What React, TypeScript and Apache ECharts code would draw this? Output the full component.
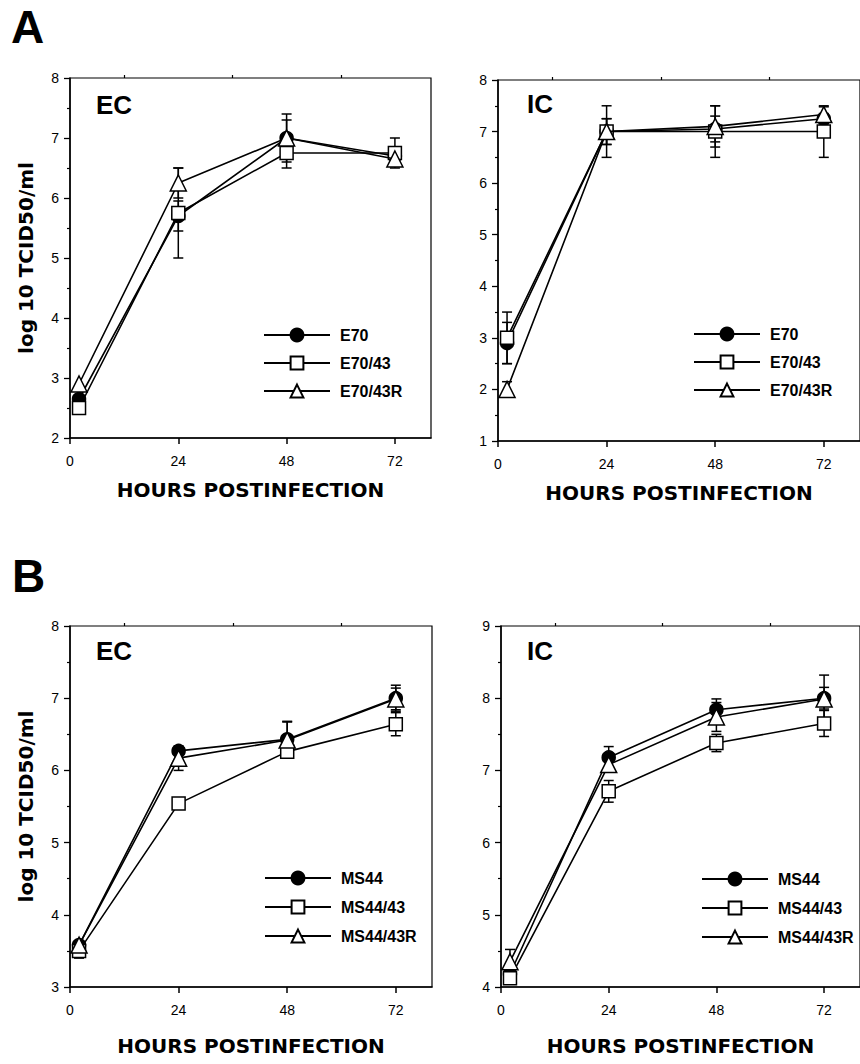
import React, { useEffect, useRef } from "react";
import * as echarts from "echarts";

// ---------- data ----------
const hours = [2, 24, 48, 72];
const xTickValues = [0, 24, 48, 72];
const xMinorTickValues = [12, 36, 60];

const seriesNamesA = ["E70", "E70/43", "E70/43R"];
const seriesNamesB = ["MS44", "MS44/43", "MS44/43R"];

// Panel A, EC
const aEcE70 = [2.65, 5.7, 7.0, 6.7];
const aEcE70Err = [0, 0.25, 0.4, 0];
const aEcE70_43 = [2.5, 5.75, 6.75, 6.75];
const aEcE70_43Err = [0, 0.75, 0.25, 0.25];
const aEcE70_43R = [2.9, 6.25, 7.0, 6.65];
const aEcE70_43RErr = [0, 0.25, 0.3, 0.1];

// Panel A, IC
const aIcE70 = [2.9, 7.0, 7.05, 7.25];
const aIcE70Err = [0.4, 0.25, 0.25, 0.1];
const aIcE70_43 = [3.0, 7.0, 7.0, 7.0];
const aIcE70_43Err = [0.5, 0.5, 0.5, 0.5];
const aIcE70_43R = [2.0, 7.0, 7.1, 7.33];
const aIcE70_43RErr = [0.15, 0.25, 0.4, 0.15];

// Panel B, EC
const bEcMS44 = [3.58, 6.27, 6.43, 7.0];
const bEcMS44Err = [0, 0.05, 0.25, 0.18];
const bEcMS44_43 = [3.5, 5.54, 6.26, 6.64];
const bEcMS44_43Err = [0.1, 0, 0.08, 0.16];
const bEcMS44_43R = [3.58, 6.17, 6.42, 6.99];
const bEcMS44_43RErr = [0.05, 0.17, 0.25, 0.15];

// Panel B, IC
const bIcMS44 = [4.18, 7.18, 7.84, 8.0];
const bIcMS44Err = [0.05, 0.15, 0.15, 0.15];
const bIcMS44_43 = [4.12, 6.71, 7.38, 7.65];
const bIcMS44_43Err = [0.05, 0.15, 0.12, 0.18];
const bIcMS44_43R = [4.35, 7.08, 7.74, 7.99];
const bIcMS44_43RErr = [0.17, 0.1, 0.2, 0.33];

// y ranges per panel [min, max]
const yRanges = [
  [2, 8],
  [1, 8],
  [3, 8],
  [4, 9],
];

const X_TITLE = "HOURS POSTINFECTION";
const Y_TITLE = "log 10 TCID50/ml";

// ---------- styling ----------
const TITLE_FONT = "'DejaVu Sans', sans-serif";
const ARIAL = "'Liberation Sans', Arial, Helvetica, sans-serif";

const grids = [
  { left: 70, top: 78, width: 361, height: 360 },
  { left: 498, top: 80, width: 363, height: 361 },
  { left: 70, top: 626, width: 362, height: 361 },
  { left: 501, top: 626, width: 367, height: 361 },
];

const legendPos = [
  { left: 263, top: 327 },
  { left: 693, top: 326 },
  { left: 264, top: 870 },
  { left: 701, top: 871 },
];

const markerStyles = [
  { symbol: "circle", symbolSize: 13, fill: "#000" },
  { symbol: "rect", symbolSize: 13, fill: "#fff" },
  { symbol: "triangle", symbolSize: 16, fill: "#fff" },
];

function lineSeries(name: string, values: number[], g: number, m: number) {
  const ms = markerStyles[m];
  return {
    type: "line",
    name,
    xAxisIndex: 2 * g,
    yAxisIndex: g,
    data: hours.map((h, i) => [h, values[i]]),
    symbol: ms.symbol,
    symbolSize: ms.symbolSize,
    showSymbol: true,
    lineStyle: { color: "#000", width: 1.6 },
    itemStyle: { color: ms.fill, borderColor: "#000", borderWidth: 1.5 },
    z: 3 + m,
    silent: true,
  };
}

function errSeries(id: string, values: number[], errs: number[], g: number) {
  const data: number[][] = [];
  hours.forEach((h, i) => {
    if (errs[i] > 0) data.push([h, values[i] - errs[i], values[i] + errs[i]]);
  });
  return {
    type: "custom",
    name: id,
    xAxisIndex: 2 * g,
    yAxisIndex: g,
    z: 2,
    silent: true,
    encode: { x: 0, y: [1, 2] },
    data,
    renderItem: (_params: any, api: any) => {
      const x = api.value(0);
      const lo = api.coord([x, api.value(1)]);
      const hi = api.coord([x, api.value(2)]);
      const w = 5;
      const style = { stroke: "#000", lineWidth: 1.5 };
      return {
        type: "group",
        children: [
          { type: "line", shape: { x1: lo[0], y1: lo[1], x2: hi[0], y2: hi[1] }, style },
          { type: "line", shape: { x1: lo[0] - w, y1: lo[1], x2: lo[0] + w, y2: lo[1] }, style },
          { type: "line", shape: { x1: hi[0] - w, y1: hi[1], x2: hi[0] + w, y2: hi[1] }, style },
        ],
      };
    },
  };
}

function buildOption() {
  const xAxes: any[] = [];
  const yAxes: any[] = [];
  grids.forEach((_, g) => {
    const isTop = g < 2;
    xAxes.push({
      type: "value",
      gridIndex: g,
      min: 0,
      max: 80,
      interval: 24,
      name: X_TITLE,
      nameLocation: "middle",
      nameGap: isTop ? 42 : 49,
      nameTextStyle: { fontFamily: TITLE_FONT, fontWeight: "bold", fontSize: 20, color: "#000" },
      axisLine: { show: true, onZero: false, lineStyle: { color: "#000", width: 1.5 } },
      axisTick: { show: true, length: 6, customValues: xTickValues, lineStyle: { color: "#000", width: 1.5 } },
      axisLabel: {
        show: true,
        customValues: xTickValues,
        margin: 16,
        fontFamily: ARIAL,
        fontSize: 14,
        color: "#000",
        formatter: (v: number) => (v % 24 === 0 && v <= 72 ? String(v) : ""),
      },
      splitLine: { show: false },
    });
    xAxes.push({
      type: "value",
      gridIndex: g,
      min: 0,
      max: 80,
      interval: 12,
      axisLine: { show: false },
      axisTick: { show: true, length: 3, customValues: xMinorTickValues, lineStyle: { color: "#000", width: 1.2 } },
      axisLabel: { show: false },
      splitLine: { show: false },
    });
    const [ymin, ymax] = yRanges[g];
    const isLeft = g % 2 === 0;
    yAxes.push({
      type: "value",
      gridIndex: g,
      min: ymin,
      max: ymax,
      interval: 1,
      name: isLeft ? Y_TITLE : "",
      nameLocation: "middle",
      nameGap: 34,
      nameRotate: 90,
      nameTextStyle: { fontFamily: TITLE_FONT, fontWeight: "bold", fontSize: 20, color: "#000" },
      axisLine: { show: true, onZero: false, lineStyle: { color: "#000", width: 1.5 } },
      axisTick: { show: true, length: 6, lineStyle: { color: "#000", width: 1.3 } },
      minorTick: { show: true, splitNumber: 2, length: 3, lineStyle: { color: "#000", width: 1.2 } },
      axisLabel: { margin: 11, fontFamily: ARIAL, fontSize: 14, color: "#000" },
      splitLine: { show: false },
      minorSplitLine: { show: false },
    });
  });

  const series: any[] = [
    errSeries("e-a-ec-0", aEcE70, aEcE70Err, 0),
    errSeries("e-a-ec-1", aEcE70_43, aEcE70_43Err, 0),
    errSeries("e-a-ec-2", aEcE70_43R, aEcE70_43RErr, 0),
    lineSeries(seriesNamesA[0], aEcE70, 0, 0),
    lineSeries(seriesNamesA[1], aEcE70_43, 0, 1),
    lineSeries(seriesNamesA[2], aEcE70_43R, 0, 2),

    errSeries("e-a-ic-0", aIcE70, aIcE70Err, 1),
    errSeries("e-a-ic-1", aIcE70_43, aIcE70_43Err, 1),
    errSeries("e-a-ic-2", aIcE70_43R, aIcE70_43RErr, 1),
    lineSeries(seriesNamesA[0], aIcE70, 1, 0),
    lineSeries(seriesNamesA[1], aIcE70_43, 1, 1),
    lineSeries(seriesNamesA[2], aIcE70_43R, 1, 2),

    errSeries("e-b-ec-0", bEcMS44, bEcMS44Err, 2),
    errSeries("e-b-ec-1", bEcMS44_43, bEcMS44_43Err, 2),
    errSeries("e-b-ec-2", bEcMS44_43R, bEcMS44_43RErr, 2),
    lineSeries(seriesNamesB[0], bEcMS44, 2, 0),
    lineSeries(seriesNamesB[1], bEcMS44_43, 2, 1),
    lineSeries(seriesNamesB[2], bEcMS44_43R, 2, 2),

    errSeries("e-b-ic-0", bIcMS44, bIcMS44Err, 3),
    errSeries("e-b-ic-1", bIcMS44_43, bIcMS44_43Err, 3),
    errSeries("e-b-ic-2", bIcMS44_43R, bIcMS44_43RErr, 3),
    lineSeries(seriesNamesB[0], bIcMS44, 3, 0),
    lineSeries(seriesNamesB[1], bIcMS44_43, 3, 1),
    lineSeries(seriesNamesB[2], bIcMS44_43R, 3, 2),
  ];

  const legends = legendPos.map((p, g) => ({
    data: g < 2 ? seriesNamesA : seriesNamesB,
    orient: "vertical",
    left: p.left,
    top: p.top,
    itemWidth: 66,
    itemHeight: 16,
    itemGap: g < 2 ? 12 : 13,
    padding: 0,
    selectedMode: false,
    textStyle: {
      fontFamily: ARIAL,
      fontWeight: "bold",
      fontSize: 16,
      color: "#000",
      padding: [0, 0, 0, 5],
    },
  }));

  const bigText = (text: string, x: number, y: number, size: number) => ({
    type: "text",
    left: x,
    top: y,
    style: { text, fontFamily: ARIAL, fontWeight: "bold", fontSize: size, fill: "#000" },
  });

  return {
    animation: false,
    backgroundColor: "#fff",
    grid: grids.map((gr) => ({
      ...gr,
      show: true,
      borderColor: "#000",
      borderWidth: 1.2,
      backgroundColor: "transparent",
      containLabel: false,
    })),
    xAxis: xAxes,
    yAxis: yAxes,
    legend: legends,
    series,
    graphic: [
      bigText("A", 11, 4, 46),
      bigText("B", 12, 553, 46),
      bigText("EC", 96, 92, 26),
      bigText("IC", 527, 91, 26),
      bigText("EC", 96, 638, 26),
      bigText("IC", 527, 638, 26),
    ],
  };
}

export default function App() {
  const ref = useRef<HTMLDivElement>(null);
  useEffect(() => {
    if (!ref.current) return;
    const chart = echarts.init(ref.current, undefined, { renderer: "svg" });
    chart.setOption(buildOption() as any);
    return () => chart.dispose();
  }, []);
  return (
    <div
      ref={ref}
      style={{ position: "absolute", left: 0, top: 0, width: 860, height: 1064, background: "#fff" }}
    />
  );
}
